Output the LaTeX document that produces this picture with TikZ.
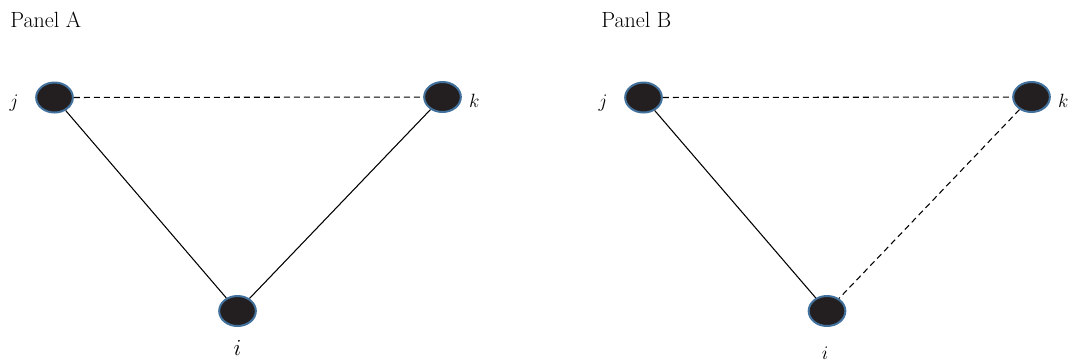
\documentclass[tikz,border=0pt]{standalone}
\usepackage{tikz}
\usetikzlibrary{positioning,shapes.geometric}
\definecolor{dotfill}{HTML}{231F20}
\definecolor{dotrim}{HTML}{41719C}

\begin{document}
\begin{tikzpicture}[
    x=0.75pt, y=-0.75pt,
    actor/.style={ellipse, draw=dotrim, fill=dotfill, line width=1.5pt, minimum width=27.5pt, minimum height=22.5pt, inner sep=0pt},
    panel/.style={font=\fontsize{16.5}{19}\selectfont, anchor=base west, inner sep=0pt},
    tag/.style={font=\fontsize{14}{16}\selectfont, text height=0.7em, text depth=0.2em},
    tie/.style={line width=0.8pt},
    weak/.style={tie, dash pattern=on 4.5pt off 3pt}
]
\useasboundingbox (0,0) rectangle (1069,362);

% Panel A
\node[panel] (titleA) at (10,27) {Panel A};
\node[actor] (jA) at (54.5,97.5) {};
\node[actor] (kA) at (442.5,97) {};
\node[actor] (iA) at (237.5,311) {};
\node[tag, left=9pt of jA, yshift=-5pt] (jAlbl) {$j$};
\node[tag, right=2pt of kA, yshift=-5pt] (kAlbl) {$k$};
\node[tag, font=\fontsize{19}{21}\selectfont, below=11pt of iA] (iAlbl) {$i$};

\draw[weak] (jA) -- (kA);
\draw[tie] (jA) -- (iA);
\draw[tie] (kA) -- (iA);

% Panel B
\node[panel] (titleB) at (601,27) {Panel B};
\node[actor] (jB) at (643.5,97.5) {};
\node[actor] (kB) at (1031.5,97) {};
\node[actor] (iB) at (827,311) {};
\node[tag, left=9pt of jB, yshift=-5pt] (jBlbl) {$j$};
\node[tag, right=2pt of kB, yshift=-5pt] (kBlbl) {$k$};
\node[tag, below=14pt of iB, xshift=-1.5pt] (iBlbl) {$i$};

\draw[weak] (jB) -- (kB);
\draw[tie] (jB) -- (iB);
\draw[weak] (kB) -- (iB);
\end{tikzpicture}
\end{document}
